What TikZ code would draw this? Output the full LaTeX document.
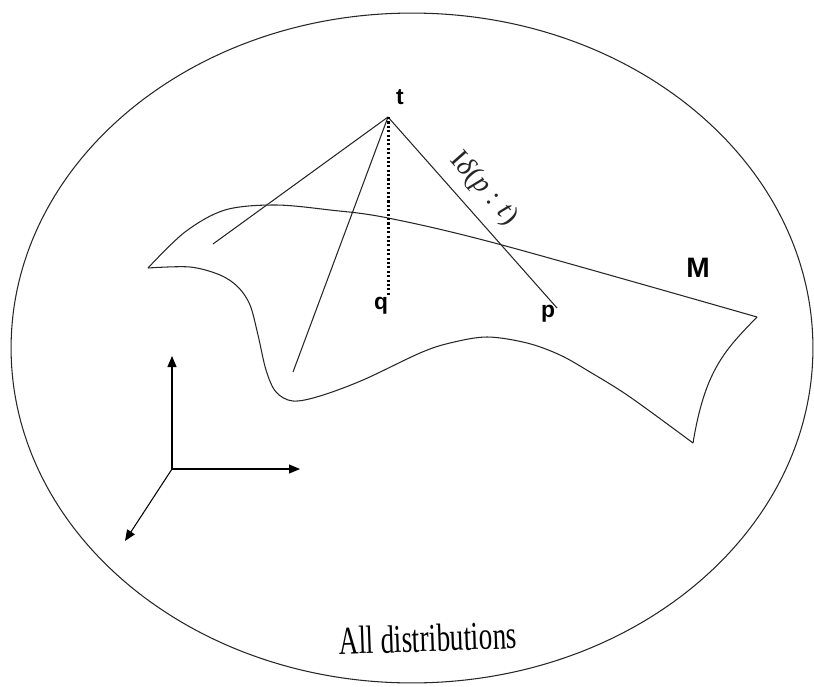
\documentclass[tikz,border=0pt]{standalone}
\usepackage{fontspec}
\setmainfont{Liberation Serif}
\setsansfont{Liberation Sans}
\usetikzlibrary{arrows.meta}

\begin{document}
\begin{tikzpicture}[
    x=0.02cm, y=-0.02cm,
    edge/.style={line width=0.6pt, black!85},
    axis/.style={-{Triangle[length=2.2mm, width=1.8mm]}, line width=0.6pt},
    proj/.style={line width=1.7pt, dash pattern=on 1.2pt off 1.3pt},
    ptlabel/.style={font=\sffamily\bfseries\fontsize{13}{15}\selectfont, inner sep=0pt}
]
    \useasboundingbox (0,0) rectangle (814,686);

    % set of all distributions
    \draw[edge] (412,348) ellipse [x radius=8.02cm, y radius=6.7cm];
    \node[font=\fontsize{15.5}{18}\selectfont, rotate=2] (all) at (428,638) {\scalebox{1}[1.45]{All distributions}};

    % the surface M
    \draw[edge] plot[smooth, tension=0.55] coordinates {(148,268) (185,232) (225,210) (275,205) (330,210) (388,218) (502,245) (757,317)};
    \draw[edge] (757,317) .. controls (725,350) and (705,370) .. (693,443);
    \draw[edge] plot[smooth, tension=0.55] coordinates {(693,443) (630,397) (590,372) (560,355) (527,343) (487,337) (450,343) (420,353) (363,380) (320,396) (293,401) (276,392) (266,370) (258,335) (250,305) (238,287) (220,275) (190,267) (148,268)};
    \node[ptlabel, font=\sffamily\bfseries\fontsize{16}{18}\selectfont] (mlab) at (698,268) {M};

    % points and projections
    \coordinate (apex) at (388,117);
    \coordinate (q) at (388,297);
    \coordinate (p) at (557,308);
    \coordinate (left) at (213,244);
    \coordinate (low) at (293,372);

    \draw[edge] (apex) -- (left);
    \draw[edge] (apex) -- (low);
    \draw[edge] (apex) -- (p)
        node[sloped, above=3pt, pos=0.46, font=\fontsize{16}{18}\selectfont] (div) {I\textit{δ}(\textit{p} : \textit{t})};
    \draw[proj] (apex) -- (q);

    \node[ptlabel] (tlab) at (400,97) {t};
    \node[ptlabel] (qlab) at (381,306) {q};
    \node[ptlabel] (plab) at (548,314) {p};

    % axes
    \coordinate (o) at (172,469);
    \coordinate (ax) at (300,469);
    \coordinate (ay) at (172,356);
    \coordinate (az) at (125,541);
    \draw[axis] (o) -- (ax);
    \draw[axis] (o) -- (ay);
    \draw[axis] (o) -- (az);
\end{tikzpicture}
\end{document}
